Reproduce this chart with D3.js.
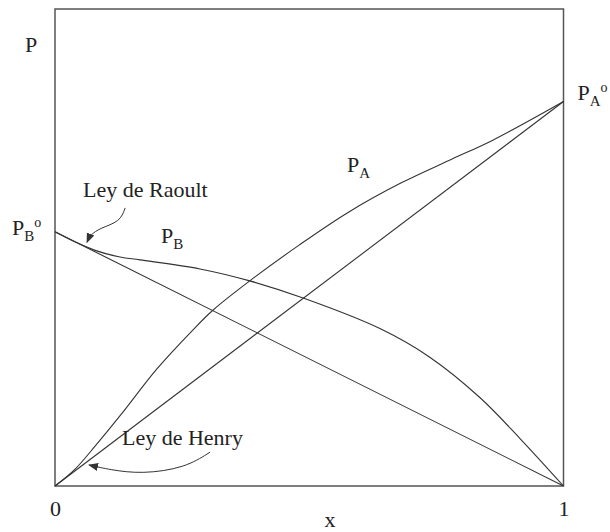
<!DOCTYPE html>
<html>
<head>
<meta charset="utf-8">
<script src="https://cdn.jsdelivr.net/npm/d3@7/dist/d3.min.js"></script>
<style>
  html, body { margin: 0; padding: 0; background: #fff; }
  svg text { font-family: "Liberation Serif", "Times New Roman", serif; fill: #222; }
</style>
</head>
<body>
<svg id="chart" width="610" height="532"></svg>
<script>
// Vapour pressure of a binary mixture vs. mole fraction x of A
const xTicks = [0, 1];
const xTickLabels = ["0", "1"];

const pA0 = 0.806;   // vapour pressure of pure A
const pB0 = 0.533;   // vapour pressure of pure B

// measured partial pressures (positive deviation)
const curveAx = [0, 0.04, 0.08, 0.13, 0.2, 0.271, 0.311, 0.383, 0.48, 0.574, 0.68, 0.78, 0.861, 1];
const curveAp = [0, 0.036, 0.085, 0.15, 0.245, 0.327, 0.369, 0.430, 0.505, 0.572, 0.635, 0.685, 0.725, 0.806];

const curveBx = [0, 0.039, 0.079, 0.128, 0.167, 0.285, 0.383, 0.488, 0.639, 0.737, 0.836, 0.914, 1];
const curveBp = [0.533, 0.512, 0.494, 0.480, 0.474, 0.455, 0.430, 0.394, 0.330, 0.270, 0.185, 0.100, 0];

// annotation arrows (data units)
const raoultArrowX = [0.138, 0.128, 0.089, 0.069, 0.063];
const raoultArrowP = [0.583, 0.554, 0.541, 0.526, 0.511];
const henryArrowX = [0.305, 0.256, 0.171, 0.108, 0.067];
const henryArrowP = [0.071, 0.038, 0.025, 0.034, 0.044];

const svg = d3.select("#chart");
const margin = { left: 55, right: 46.5, top: 9, bottom: 46 };
const W = 610, H = 532;

const x = d3.scaleLinear().domain([0, 1]).range([margin.left, W - margin.right]);
const y = d3.scaleLinear().domain([0, 1]).range([H - margin.bottom, margin.top]);

const ink = "#333";

// frame
svg.append("rect")
  .attr("x", x(0)).attr("y", y(1))
  .attr("width", x(1) - x(0)).attr("height", y(0) - y(1))
  .attr("fill", "none").attr("stroke", "#555").attr("stroke-width", 1.5);

// x axis tick labels
const xAxis = d3.axisBottom(x).tickValues(xTicks)
  .tickFormat((d, i) => xTickLabels[i]).tickSize(0).tickPadding(14);
const gx = svg.append("g").attr("transform", `translate(0,${y(0)})`).call(xAxis);
gx.select(".domain").remove();
gx.selectAll("text")
  .style("font-family", "'Liberation Serif', serif")
  .style("font-size", "22px").attr("fill", "#222");

const line = d3.line().x(d => x(d[0])).y(d => y(d[1]));
const curve = d3.line().x(d => x(d[0])).y(d => y(d[1])).curve(d3.curveCatmullRom.alpha(0.5));

// Raoult's law straight lines
svg.append("path").attr("d", line([[0, 0], [1, pA0]]))
  .attr("fill", "none").attr("stroke", ink).attr("stroke-width", 1.1);
svg.append("path").attr("d", line([[0, pB0], [1, 0]]))
  .attr("fill", "none").attr("stroke", ink).attr("stroke-width", 1.1);

// real pressure curves
svg.append("path").attr("d", curve(d3.zip(curveAx, curveAp)))
  .attr("fill", "none").attr("stroke", ink).attr("stroke-width", 1.1);
svg.append("path").attr("d", curve(d3.zip(curveBx, curveBp)))
  .attr("fill", "none").attr("stroke", ink).attr("stroke-width", 1.1);

// arrowhead
svg.append("defs").append("marker")
  .attr("id", "head").attr("viewBox", "0 0 10 10")
  .attr("refX", 9).attr("refY", 5)
  .attr("markerWidth", 10).attr("markerHeight", 10)
  .attr("markerUnits", "userSpaceOnUse")
  .attr("orient", "auto")
  .append("path").attr("d", "M0,1 L10,5 L0,9 Z").attr("fill", ink);

const smooth = d3.line().x(d => x(d[0])).y(d => y(d[1])).curve(d3.curveBasis);
svg.append("path").attr("d", smooth(d3.zip(raoultArrowX, raoultArrowP)))
  .attr("fill", "none").attr("stroke", ink).attr("stroke-width", 1)
  .attr("marker-end", "url(#head)");
svg.append("path").attr("d", smooth(d3.zip(henryArrowX, henryArrowP)))
  .attr("fill", "none").attr("stroke", ink).attr("stroke-width", 1)
  .attr("marker-end", "url(#head)");

// text labels with sub/superscripts
function label(px, py, main, sub, sup) {
  const t = svg.append("text").attr("x", px).attr("y", py).style("font-size", "22px");
  t.append("tspan").text(main);
  if (sub) t.append("tspan").attr("dy", 6).style("font-size", "15px").text(sub);
  if (sup) t.append("tspan").attr("dy", sub ? -14 : -8).style("font-size", "14px").text(sup);
  return t;
}

label(25, 52, "P");
label(x(1) + 14, y(pA0) - 2, "P", "A", "o");
label(12, y(pB0) + 3, "P", "B", "o");
label(161, 243, "P", "B");
label(347, 172, "P", "A");
svg.append("text").attr("x", 83).attr("y", 197).style("font-size", "22px").text("Ley de Raoult");
svg.append("text").attr("x", 122).attr("y", 445).style("font-size", "22px").text("Ley de Henry");
svg.append("text").attr("x", 330).attr("y", 527).attr("text-anchor", "middle").style("font-size", "22px").text("x");
</script>
</body>
</html>
